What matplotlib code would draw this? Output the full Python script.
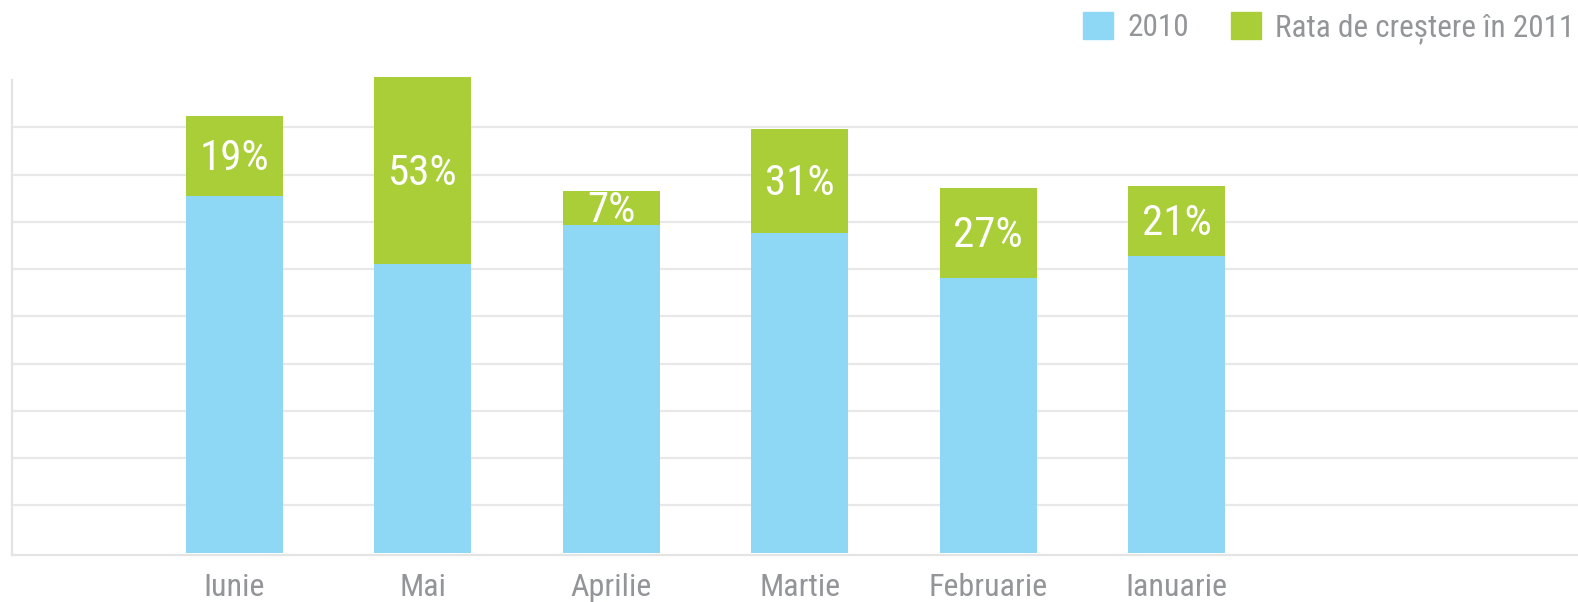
import matplotlib
matplotlib.use('Agg')
import matplotlib.pyplot as plt
from matplotlib.patches import Patch

plt.rcParams['font.family'] = ['Roboto Condensed', 'Liberation Sans Narrow', 'Roboto', 'DejaVu Sans']

# data (grid units)
months = ['Iunie', 'Mai', 'Aprilie', 'Martie', 'Februarie', 'Ianuarie']
base_2010 = [7.55, 6.10, 6.94, 6.77, 5.81, 6.27]
growth_2011 = [1.69, 3.96, 0.71, 2.20, 1.90, 1.48]
growth_labels = ['19%', '53%', '7%', '31%', '27%', '21%']

blue = '#8ED8F6'
green = '#A9CE38'
grey_text = '#939598'

fig = plt.figure(figsize=(15.78, 6.02), dpi=100)
ax = fig.add_axes([12 / 1578, 47 / 602, 1 - 12 / 1578, 475 / 602])

x = range(len(months))
ax.bar(x, base_2010, width=0.515, color=blue, label='2010', zorder=2)
ax.bar(x, growth_2011, width=0.515, bottom=base_2010, color=green,
       label='Rata de creștere în 2011', zorder=2, clip_on=False)

for i in x:
    ax.annotate(growth_labels[i], (i, base_2010[i] + growth_2011[i] / 2),
                xytext=(0, 1.5), textcoords='offset points',
                ha='center', va='center_baseline', color='white', fontsize=31, zorder=3)

ax.set_xlim(-1.181, 7.131)
ax.set_ylim(-0.05, 10)
ax.set_yticks(range(1, 10))
ax.yaxis.grid(True, color='#E8E8E8', linewidth=1.6, zorder=0)
ax.tick_params(axis='y', length=0, labelleft=False)
ax.set_xticks(list(x))
ax.set_xticklabels(months, fontsize=23, color=grey_text)
ax.tick_params(axis='x', length=0, pad=13)

for s in ['top', 'right']:
    ax.spines[s].set_visible(False)
ax.spines['left'].set_color('#E4E4E4')
ax.spines['left'].set_linewidth(1.6)
ax.spines['bottom'].set_color('#E4E4E4')
ax.spines['bottom'].set_linewidth(1.6)

handles = [Patch(color=blue, label='2010'),
           Patch(color=green, label='Rata de creștere în 2011')]
leg = fig.legend(handles=handles, loc='upper right', ncol=2, frameon=False,
                 bbox_to_anchor=(1574 / 1578, 1 - 12 / 602), borderaxespad=0,
                 borderpad=0, fontsize=22.5, handlelength=0.95, handleheight=0.95,
                 handletextpad=0.45, columnspacing=1.35)
for t in leg.get_texts():
    t.set_color(grey_text)

fig.savefig('out.png', dpi=100)
